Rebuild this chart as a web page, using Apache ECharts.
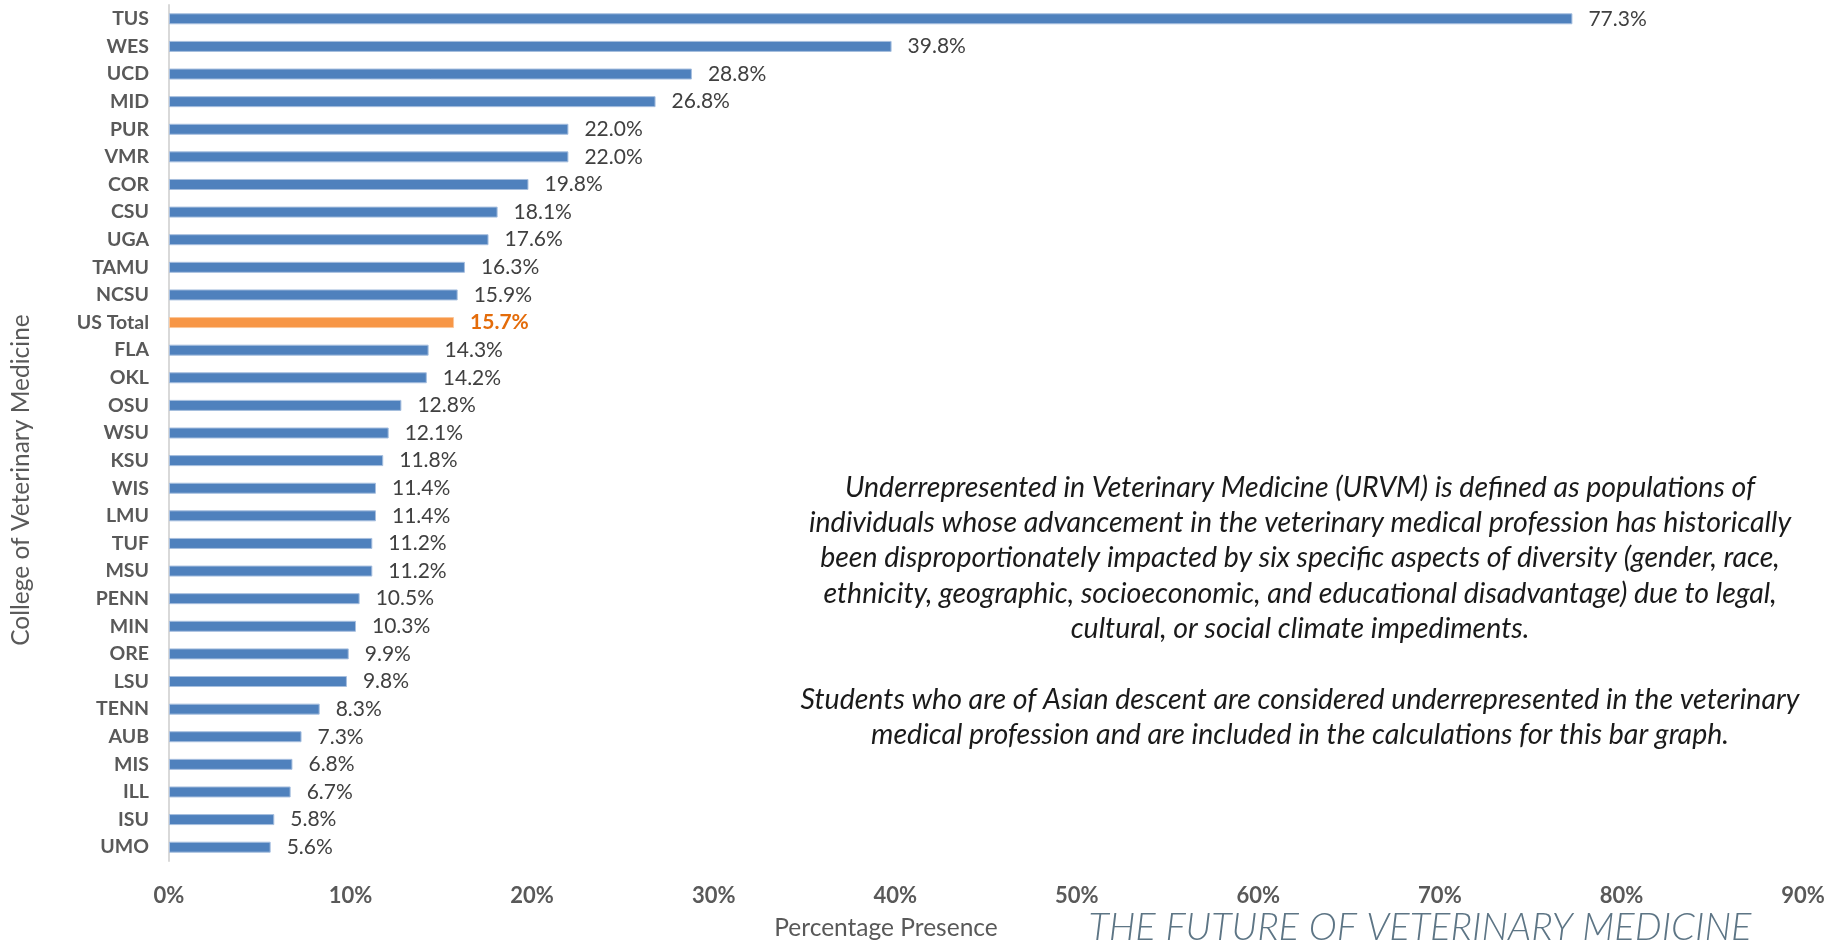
<!DOCTYPE html>
<html><head><meta charset="utf-8">
<script src="https://cdn.jsdelivr.net/npm/echarts@6/dist/echarts.min.js"></script>
<style>html,body{margin:0;padding:0;background:#fff}#c{width:1844px;height:941px}</style>
</head><body><div id="c"></div>
<script>
const categories = ['TUS','WES','UCD','MID','PUR','VMR','COR','CSU','UGA','TAMU','NCSU','US Total','FLA','OKL','OSU','WSU','KSU','WIS','LMU','TUF','MSU','PENN','MIN','ORE','LSU','TENN','AUB','MIS','ILL','ISU','UMO'];
const values = [77.3,39.8,28.8,26.8,22.0,22.0,19.8,18.1,17.6,16.3,15.9,15.7,14.3,14.2,12.8,12.1,11.8,11.4,11.4,11.2,11.2,10.5,10.3,9.9,9.8,8.3,7.3,6.8,6.7,5.8,5.6];
const highlight = 'US Total';
const note = [
  'Underrepresented in Veterinary Medicine (URVM) is defined as populations of',
  'individuals whose advancement in the veterinary medical profession has historically',
  'been disproportionately impacted by six specific aspects of diversity (gender, race,',
  'ethnicity, geographic, socioeconomic, and educational disadvantage) due to legal,',
  'cultural, or social climate impediments.',
  '',
  'Students who are of Asian descent are considered underrepresented in the veterinary',
  'medical profession and are included in the calculations for this bar graph.'
];
const FONT = 'Lato, "Noto Sans", sans-serif';
const chart = echarts.init(document.getElementById('c'));
const data = values.map((v,i)=>{
  const isH = categories[i]===highlight;
  return {
    value: v,
    itemStyle: {color: isH ? '#f79646' : '#4f81bd', borderColor: isH ? '#fbc79a' : '#a7bfdf', borderWidth: 1},
    label: isH ? {color:'#e46c0a', fontWeight:'bold'} : undefined
  };
});
chart.setOption({
  animation:false,
  grid:{left:169, right:41, top:5, bottom:80, containLabel:false},
  xAxis:{type:'value', min:0, max:90, interval:10,
    axisLine:{show:false}, axisTick:{show:false}, splitLine:{show:false},
    axisLabel:{formatter:v=>v+'%', color:'#595959', fontWeight:'bold', fontSize:22, fontFamily:FONT, margin:24}
  },
  yAxis:{type:'category', data:categories, inverse:true,
    axisLine:{show:true, lineStyle:{color:'#d9d9d9', width:2}}, axisTick:{show:false},
    axisLabel:{color:'#595959', fontWeight:'bold', fontSize:19.5, fontFamily:FONT, margin:20}
  },
  series:[{type:'bar', data:data, barWidth:11,
    label:{show:true, position:'right', distance:16, formatter:p=>p.value.toFixed(1)+'%', color:'#404040', fontSize:21, fontFamily:FONT}
  }],
  graphic:[
    {type:'text', x:21, y:480, rotation:Math.PI/2, style:{text:'College of Veterinary Medicine', fill:'#595959', fontSize:24.5, fontFamily:FONT, textAlign:'center', textVerticalAlign:'middle'}},
    {type:'text', x:886, y:928, style:{text:'Percentage Presence', fill:'#595959', fontSize:24.5, fontFamily:FONT, textAlign:'center', textVerticalAlign:'middle'}},
    {type:'text', x:1300, y:470, style:{text:note.join('\n'), fill:'#1a1a1a', fontSize:28.5, fontStyle:'italic', fontFamily:FONT, textAlign:'center', lineHeight:35.3}},
    {type:'text', x:1420, y:928, style:{text:'THE FUTURE OF VETERINARY MEDICINE', fill:'#5d7585', fontSize:38, fontStyle:'italic', fontWeight:300, fontFamily:FONT, textAlign:'center', textVerticalAlign:'middle'}}
  ]
});
</script></body></html>
